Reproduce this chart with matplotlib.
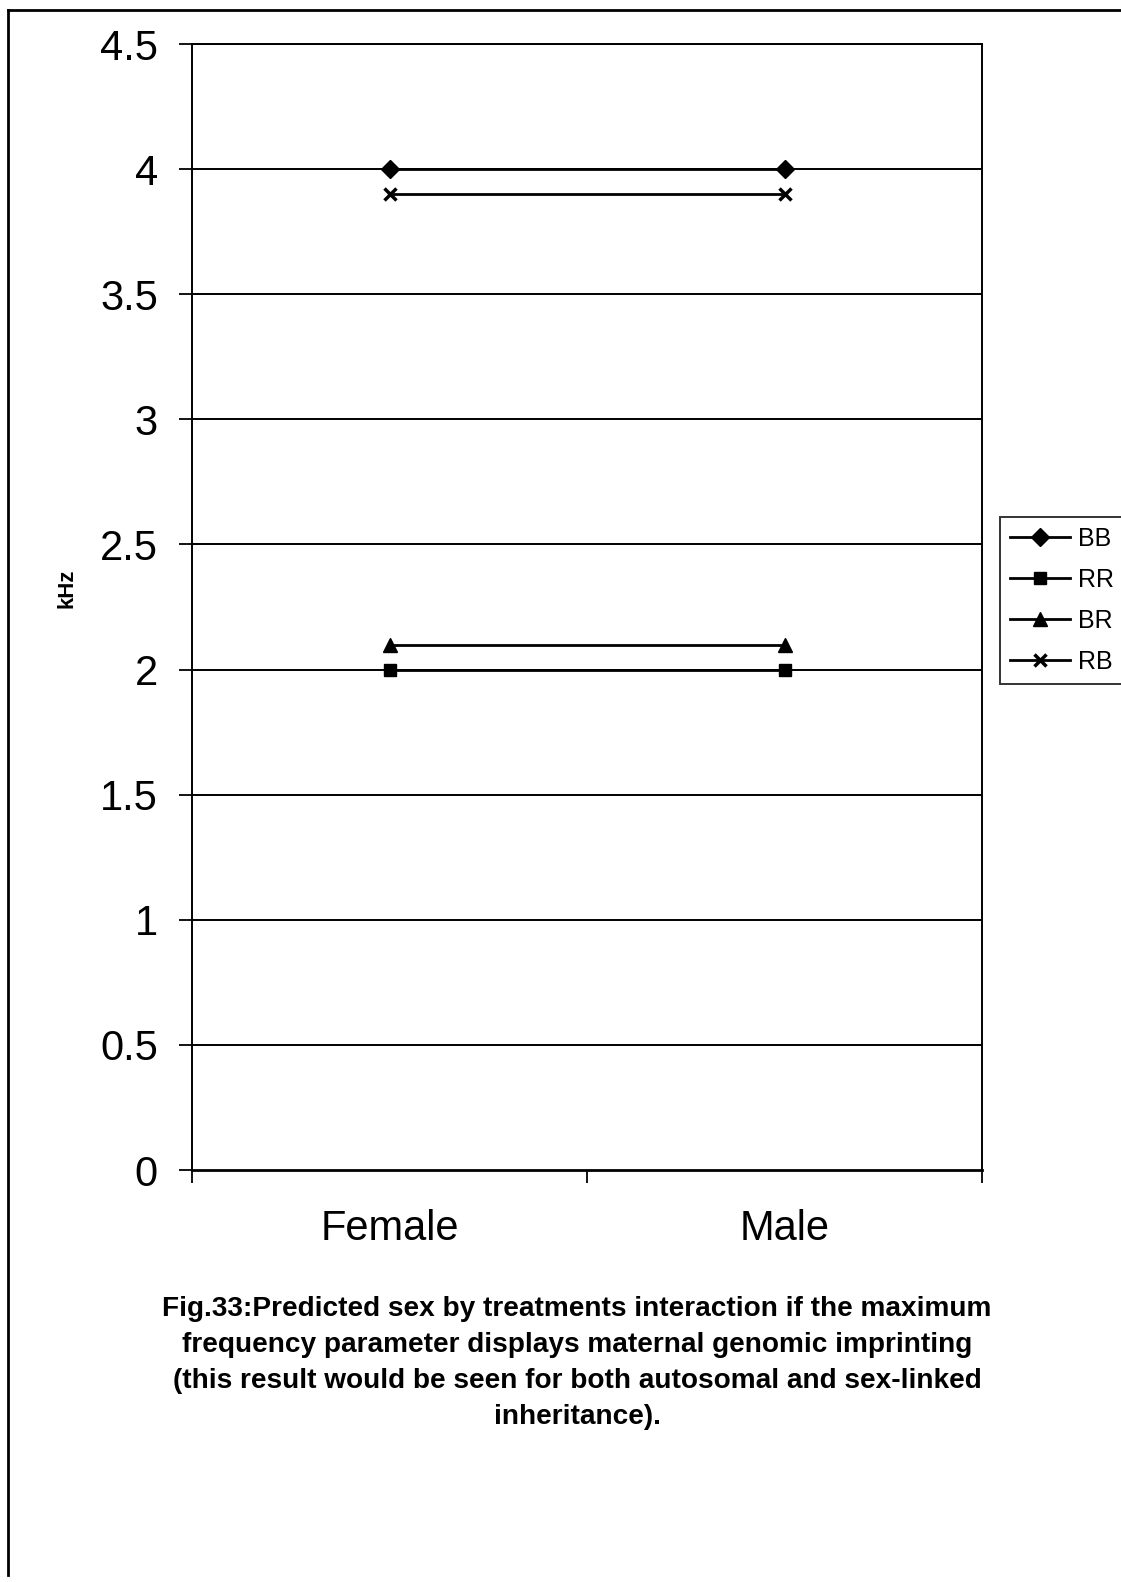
import matplotlib
matplotlib.use("Agg")
import matplotlib.pyplot as plt
from matplotlib.lines import Line2D

plt.rcParams['font.family'] = ['Liberation Sans', 'DejaVu Sans']

# Data
categories = ["Female", "Male"]
series_names = ["BB", "RR", "BR", "RB"]
bb = [4.0, 4.0]
rr = [2.0, 2.0]
br = [2.1, 2.1]
rb = [3.9, 3.9]
y_ticks = [0, 0.5, 1, 1.5, 2, 2.5, 3, 3.5, 4, 4.5]
y_ticklabels = ["0", "0.5", "1", "1.5", "2", "2.5", "3", "3.5", "4", "4.5"]
caption_lines = [
    "Fig.33:Predicted sex by treatments interaction if the maximum",
    "frequency parameter displays maternal genomic imprinting",
    "(this result would be seen for both autosomal and sex-linked",
    "inheritance).",
]

W, H = 1121, 1582
fig = plt.figure(figsize=(W / 100, H / 100), dpi=100)
fig.patch.set_facecolor("white")

# Outer frame lines (top and left)
fig.add_artist(Line2D([8 / W, 1.0], [1 - 10 / H, 1 - 10 / H], color="black", lw=2.0))
fig.add_artist(Line2D([8 / W, 8 / W], [1 - 10 / H, 1 - 1575 / H], color="black", lw=2.0))

# Plot area
ax_l, ax_r, ax_t, ax_b = 192, 982, 44, 1170
ax = fig.add_axes([ax_l / W, 1 - ax_b / H, (ax_r - ax_l) / W, (ax_b - ax_t) / H])

x = list(range(len(categories)))
styles = [
    (bb, "D", 9),
    (rr, "s", 9),
    (br, "^", 10),
    (rb, "x", 9),
]
handles = []
for (vals, marker, ms), name in zip(styles, series_names):
    h, = ax.plot(x, vals, color="black", lw=2.0, marker=marker, markersize=ms,
                 markeredgewidth=2.5 if marker == "x" else 1.0,
                 markerfacecolor="black", markeredgecolor="black", label=name,
                 zorder=3)
    handles.append(h)

ax.set_xlim(-0.5, 1.5)
ax.set_ylim(0, 4.5)

for y in y_ticks[1:]:
    ax.axhline(y, color="black", lw=1.4, zorder=1)

ax.set_yticks(y_ticks)
ax.set_yticklabels(y_ticklabels)
ax.tick_params(axis="y", direction="out", length=9.5, width=1.3, pad=15,
               labelsize=30, colors="black")

# Category boundaries carry the tick marks; names sit between them
ax.set_xticks([-0.5, 0.5, 1.5])
ax.set_xticklabels(["", "", ""])
ax.tick_params(axis="x", which="major", direction="out", length=9, width=1.3)
ax.set_xticks(x, minor=True)
ax.set_xticklabels(categories, minor=True)
ax.tick_params(axis="x", which="minor", length=0, pad=28, labelsize=30)

for side in ["left", "right", "top"]:
    ax.spines[side].set_linewidth(1.4)
ax.spines["bottom"].set_linewidth(2.0)

ax.set_ylabel("kHz", fontsize=16, fontweight="bold")
ax.yaxis.set_label_coords((78 - ax_l) / (ax_r - ax_l), 0.517)

leg = fig.legend(handles=handles, labels=series_names,
                 loc="upper left", bbox_to_anchor=(1000 / W, 1 - 517 / H),
                 fontsize=18, frameon=True, fancybox=False, edgecolor="black",
                 handlelength=2.4, handletextpad=0.3, labelspacing=0.68,
                 borderpad=0.4, borderaxespad=0)
leg.get_frame().set_linewidth(1.4)

for i, line in enumerate(caption_lines):
    fig.text(577 / W, 1 - (1309 + i * 36) / H, line, ha="center", va="center",
             fontsize=20.2, fontweight="bold")

fig.savefig("out.png", dpi=100, facecolor="white")
